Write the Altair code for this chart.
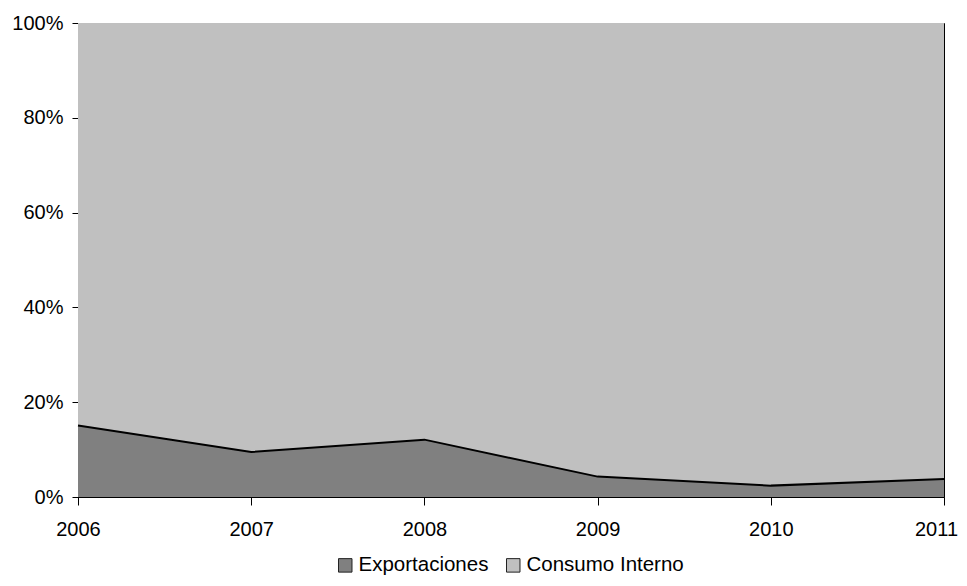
import altair as alt
import pandas as pd

years = [2006, 2007, 2008, 2009, 2010, 2011]
exportaciones = [15.1, 9.5, 12.1, 4.3, 2.4, 3.8]
consumo_interno = [84.9, 90.5, 87.9, 95.7, 97.6, 96.2]
series = ["Exportaciones", "Consumo Interno"]
colors = ["#808080", "#C0C0C0"]
y_ticks = [0, 20, 40, 60, 80, 100]

rows = []
for i, y in enumerate(years):
    rows.append({"year": y, "serie": series[0], "value": exportaciones[i], "ord": 0})
    rows.append({"year": y, "serie": series[1], "value": consumo_interno[i], "ord": 1})
df = pd.DataFrame(rows)
df_exp = pd.DataFrame({"year": years, "value": exportaciones})

FONT = "Liberation Sans"

x_enc = alt.X("year:Q", scale=alt.Scale(domain=[2006, 2011], nice=False, zero=False),
              axis=alt.Axis(values=years, format="d", title=None, grid=False,
                            labelFontSize=20, labelColor="black", labelFont=FONT,
                            tickColor="black", tickSize=8, labelPadding=14,
                            labelOffset={"condition": {"test": "datum.value == 2011", "value": -8},
                                         "value": 0},
                            domainColor="black", labelFlush=False))

area = alt.Chart(df).mark_area(opacity=1, strokeWidth=0).encode(
    x=x_enc,
    y=alt.Y("value:Q", stack="zero", scale=alt.Scale(domain=[0, 100], nice=False),
            axis=alt.Axis(values=y_ticks, labelExpr="datum.value + '%'", title=None,
                          grid=False, labelFontSize=20, labelColor="black", labelFont=FONT,
                          tickColor="black", tickSize=6, labelPadding=9,
                          domainColor="black")),
    color=alt.Color("serie:N", scale=alt.Scale(domain=series, range=colors),
                    legend=alt.Legend(title=None, orient="none", direction="horizontal",
                                      legendX=257, legendY=532,
                                      symbolType="square", symbolSize=182,
                                      symbolStrokeColor="#222222", symbolStrokeWidth=1,
                                      symbolOpacity=1,
                                      labelFontSize=20.5, labelColor="black", labelFont=FONT,
                                      labelOffset=3, columnPadding=14)),
    order=alt.Order("ord:Q"),
)

line = alt.Chart(df_exp).mark_line(color="black", strokeWidth=2).encode(
    x=alt.X("year:Q"),
    y=alt.Y("value:Q"),
)

chart = alt.layer(area, line).properties(
    width=866, height=474,
    autosize=alt.AutoSizeParams(type="none"),
    padding={"left": 70, "top": 15, "right": 15, "bottom": 81},
    background="white",
).configure_view(stroke="black", strokeWidth=1)

chart.save("out.html", embed_options={"renderer": "svg", "actions": False})
